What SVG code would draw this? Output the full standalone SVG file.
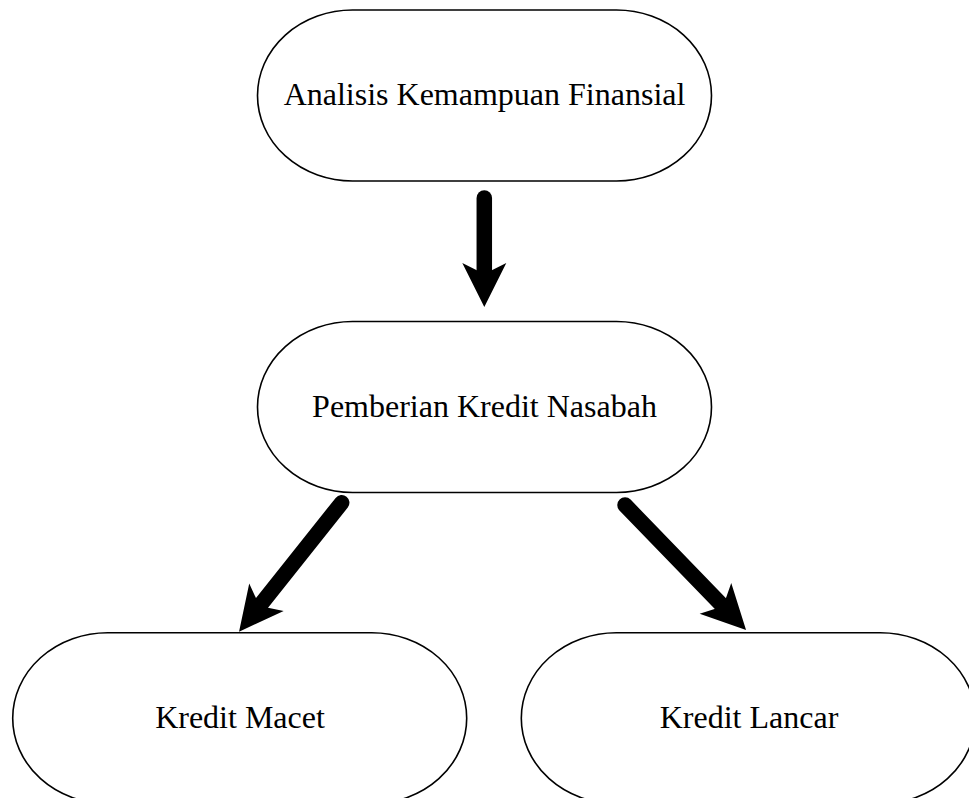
<svg xmlns="http://www.w3.org/2000/svg" width="969" height="798" viewBox="0 0 969 798">
  <defs>
    <style>
      .node { fill: #ffffff; stroke: #000000; stroke-width: 1.6; }
      .label { font-family: "Liberation Serif", "Times New Roman", serif; font-size: 32px; fill: #000000; text-anchor: middle; }
      .conn { stroke: #000000; stroke-width: 15.5; stroke-linecap: round; fill: none; marker-end: url(#head); }
    </style>
    <marker id="head" markerUnits="userSpaceOnUse" markerWidth="44" markerHeight="44" refX="11" refY="22" orient="auto" overflow="visible">
      <path d="M0,0 L44,22 L0,44 L11,22 Z" fill="#000000"/>
    </marker>
  </defs>
  <rect width="969" height="798" fill="#ffffff"/>
  <g id="connectors">
    <line class="conn" x1="484.3" y1="198" x2="484.3" y2="274"/>
    <line class="conn" x1="341.7" y1="502.7" x2="259.6" y2="605.9"/>
    <line class="conn" x1="625" y1="505" x2="723.1" y2="606.3"/>
  </g>
  <g id="analisis">
    <rect class="node" x="257.5" y="10" width="454" height="171" rx="95" ry="85.5"/>
    <text class="label" x="484.5" y="105">Analisis Kemampuan Finansial</text>
  </g>
  <g id="pemberian">
    <rect class="node" x="257.5" y="321.5" width="454" height="171" rx="95" ry="85.5"/>
    <text class="label" x="484.5" y="417">Pemberian Kredit Nasabah</text>
  </g>
  <g id="macet">
    <rect class="node" x="12.7" y="632.7" width="454" height="171" rx="95" ry="85.5"/>
    <text class="label" x="240" y="728">Kredit Macet</text>
  </g>
  <g id="lancar">
    <rect class="node" x="521.3" y="632.7" width="454" height="171" rx="95" ry="85.5"/>
    <text class="label" x="749" y="728">Kredit Lancar</text>
  </g>
</svg>
